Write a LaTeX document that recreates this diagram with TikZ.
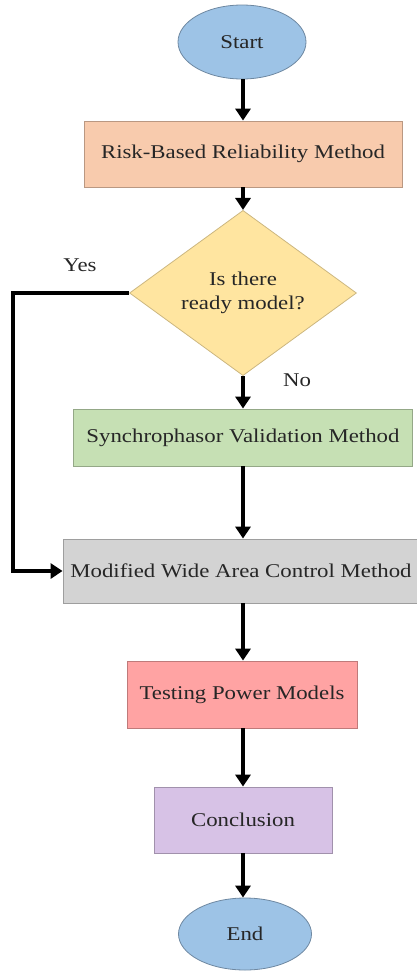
\documentclass[tikz,border=0pt]{standalone}
\usepackage{fontspec}
\setmainfont{Liberation Serif}[FakeStretch=1.17]
\usepackage{tikz}
\usetikzlibrary{shapes.geometric}
\usetikzlibrary{arrows.meta}
\definecolor{startblue}{HTML}{9DC3E6}
\definecolor{riskorange}{HTML}{F8CBAD}
\definecolor{askyellow}{HTML}{FFE5A0}
\definecolor{syncgreen}{HTML}{C6E0B4}
\definecolor{wacgray}{HTML}{D3D3D3}
\definecolor{testpink}{HTML}{FFA3A3}
\definecolor{endpurple}{HTML}{D7C2E6}
\tikzset{
    flowtext/.style={text=black!85, font=\fontsize{19.5}{24}\selectfont, inner sep=0pt},
    terminal/.style={flowtext, ellipse, draw=#1!70!black, fill=#1, line width=0.8pt},
    stepbox/.style={flowtext, rectangle, draw=#1!75!black, fill=#1, line width=0.8pt},
    flowarrow/.style={line width=3.4pt, -{Triangle[width=15pt,length=12pt]}}
}
\begin{document}
\begin{tikzpicture}[x=1pt, y=-1pt]
\useasboundingbox (0,0) rectangle (417,972);
\node[terminal=startblue, minimum width=128pt, minimum height=74pt] (start) at (242,42) {Start};
\node[stepbox=riskorange, minimum width=318pt, minimum height=66pt] (risk) at (243,154) {Risk-Based Reliability Method};
\node[flowtext, diamond, draw=askyellow!80!black, fill=askyellow, line width=0.8pt, minimum width=227pt, minimum height=141pt, align=center] (ask) at (243,293) {Is there\\ready model?};
\node[stepbox=syncgreen, minimum width=339pt, minimum height=57pt] (sync) at (243,437.5) {Synchrophasor Validation Method};
\node[stepbox=wacgray, minimum width=356pt, minimum height=64pt] (wac) at (241,571) {Modified Wide Area Control Method};
\node[stepbox=testpink, minimum width=230pt, minimum height=67pt] (test) at (242,694.5) {Testing Power Models};
\node[stepbox=endpurple, minimum width=178pt, minimum height=66pt] (concl) at (243,820) {Conclusion};
\node[terminal=startblue, minimum width=133pt, minimum height=72pt] (end) at (245,934) {End};
% labels of the decision
\node[flowtext] (yes) at (80,265) {Yes};
\node[flowtext] (no) at (297,380) {No};
% connectors
\foreach \a/\b in {start/risk, risk/ask, ask/sync, sync/wac, wac/test, test/concl, concl/end}{
\draw[flowarrow] (\a.south -| 243,0) -- (\b.north -| 243,0);
}
\coordinate (loopdown) at (13,571);
\draw[flowarrow] (ask.west) -| (loopdown) -- (wac.west);
\end{tikzpicture}
\end{document}
